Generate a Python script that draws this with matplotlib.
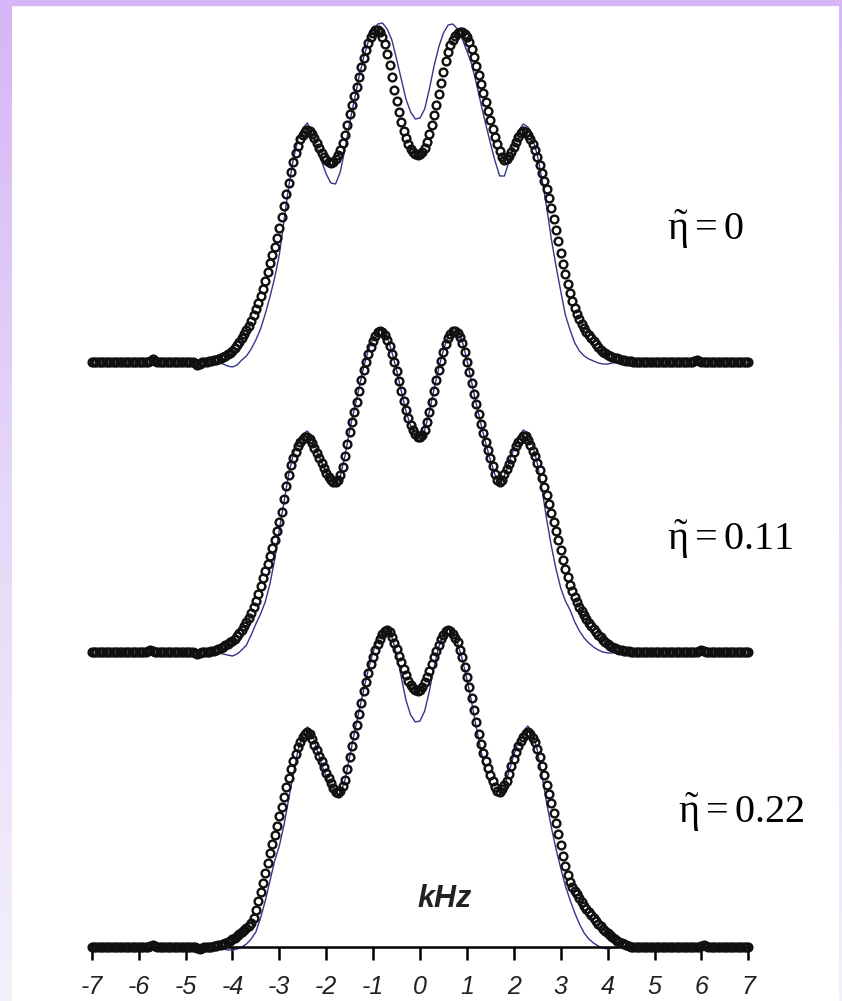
import numpy as np
import matplotlib.pyplot as plt
from matplotlib.colors import LinearSegmentedColormap
from matplotlib.patches import Rectangle

plt.rcParams['mathtext.fontset'] = 'custom'
plt.rcParams['mathtext.rm'] = 'Liberation Serif'
plt.rcParams['mathtext.it'] = 'Liberation Serif'
plt.rcParams['font.family'] = ['Liberation Sans', 'DejaVu Sans']

# ---- data (heights above each trace's baseline) --------------------------
# observed spectrum, 0.05 kHz grid from -7 to 7
khz_obs = np.round(np.arange(-7.0, 7.001, 0.05), 2)
# simulated spectrum, 0.1 kHz grid from -4.5 to 4.5
khz_sim = np.round(np.arange(-4.5, 4.501, 0.1), 1)

tail0_left = [0, 0, 0, 0, 0, 0, 0, 0, 0, 0, 0, 0, 0, 0, 0, 0, 0, 0, 0, 0,
              0, 0, 0, 0, 0, 1, 3, 1, 0, 0, 0, 0, 0, 0, 0, 0, 0, 0, 0, 0,
              0, 0, 0, 0, -1, -3, -2, 0, 0, 0]
tail0_right = [0, 0, 0, 0, 0, 0, 0, 0, 0, 0, 0, 0, 0, 0, 0, 0, 0, 0, 0, 0,
               0, 0, 0, 0, 0, 0, 1, 2, 1, 0, 0, 0, 0, 0, 0, 0, 0, 0, 0, 0,
               0, 0, 0, 0, 0, 0, 0, 0, 0, 0]
core0 = [1, 1, 2, 2, 3, 4, 5, 6, 8, 9, 11, 14, 17, 20, 24, 28, 32, 36, 41, 47,
         53, 59, 66, 73, 81, 90, 99, 107, 115, 124, 134, 145, 156, 168, 179, 190, 200, 209, 216, 223,
         227, 230, 232, 231, 228, 224, 219, 214, 209, 205, 202, 200, 199, 200, 203, 207, 212, 219, 227, 237,
         248, 257, 266, 275, 285, 295, 304, 312, 319, 325, 329, 332, 332, 330, 325, 318, 308, 297, 285, 272,
         261, 250, 240, 231, 224, 218, 213, 210, 208, 207, 208, 210, 214, 220, 228, 237, 247, 257, 268, 279,
         290, 301, 310, 317, 322, 326, 329, 330, 330, 328, 325, 320, 313, 305, 296, 287, 278, 269, 260, 251,
         242, 233, 225, 218, 211, 205, 202, 203, 206, 210, 215, 220, 225, 229, 231, 230, 227, 223, 218, 212,
         205, 197, 189, 181, 173, 164, 154, 143, 132, 121, 109, 98, 88, 78, 69, 61, 54, 48, 43, 38,
         34, 30, 27, 24, 21, 18, 15, 12, 10, 9, 7, 6, 5, 4, 4, 3, 2, 2, 1, 1,
         1]
sim0 = [0, 0, -1, -2, -4, -5, -3, 2, 6, 13, 22, 33, 48, 65, 84, 107, 141, 175, 203, 223,
        234, 239, 228, 215, 201, 188, 179, 178, 190, 213, 239, 262, 285, 305, 321, 332, 338, 339, 333, 322,
        303, 283, 263, 250, 243, 244, 253, 273, 296, 315, 329, 337, 338, 333, 323, 311, 298, 279, 258, 238,
        219, 201, 186, 186, 201, 218, 231, 238, 235, 224, 207, 183, 155, 123, 96, 71, 47, 32, 19, 11,
        6, 3, 1, -1, -2, -2, -1, 0, 0, 0, 0]

tail1_left = [0, 0, 0, 0, 0, 0, 0, 0, 0, 0, 0, 0, 0, 0, 0, 0, 0, 0, 0, 0,
              0, 0, 0, 0, 1, 2, 1, 0, 0, 0, 0, 0, 0, 0, 0, 0, 0, 0, 0, 0,
              0, 0, 0, 0, -1, -2, -1, 0, 0, 0]
tail1_right = [0, 0, 0, 0, 0, 0, 0, 0, 0, 0, 0, 0, 0, 0, 0, 0, 0, 0, 0, 0,
               0, 0, 0, 0, 0, 0, 0, 0, 1, 2, 1, 0, 0, 0, 0, 0, 0, 0, 0, 0,
               0, 0, 0, 0, 0, 0, 0, 0, 0, 0]
core1 = [0, 1, 1, 2, 3, 4, 5, 7, 8, 10, 11, 13, 16, 19, 22, 26, 30, 34, 39, 45,
         51, 58, 66, 74, 81, 88, 96, 104, 112, 121, 130, 140, 153, 166, 177, 187, 194, 200, 206, 210,
         213, 215, 215, 213, 209, 204, 199, 194, 189, 184, 179, 175, 172, 170, 170, 172, 177, 185, 196, 208,
         220, 230, 240, 250, 261, 272, 282, 290, 298, 305, 311, 316, 320, 321, 320, 317, 312, 306, 298, 290,
         281, 271, 261, 251, 242, 234, 227, 222, 218, 215, 215, 217, 222, 230, 240, 250, 261, 272, 282, 291,
         300, 308, 314, 318, 321, 321, 319, 315, 309, 300, 290, 280, 269, 258, 248, 238, 228, 219, 210, 202,
         194, 186, 178, 172, 170, 172, 178, 183, 188, 193, 200, 206, 210, 213, 216, 216, 212, 207, 201, 196,
         189, 182, 174, 165, 157, 148, 139, 130, 121, 112, 102, 92, 83, 75, 67, 61, 55, 50, 45, 41,
         37, 33, 29, 26, 23, 20, 17, 15, 12, 10, 8, 6, 5, 4, 3, 2, 2, 1, 1, 1,
         0]
sim1 = [0, 0, -1, -2, -3, -4, -2, 2, 7, 17, 28, 38, 50, 68, 92, 122, 150, 178, 198, 210,
        218, 221, 214, 202, 190, 180, 172, 169, 176, 196, 222, 243, 264, 285, 302, 314, 323, 324, 316, 300,
        282, 261, 241, 226, 217, 215, 222, 240, 263, 284, 302, 316, 324, 322, 311, 292, 270, 248, 228, 209,
        192, 177, 169, 176, 190, 203, 214, 222, 219, 207, 189, 163, 133, 106, 83, 64, 51, 42, 30, 21,
        14, 9, 5, 2, 0, -1, -1, 0, 0, 0, 0]

tail2_left = [0, 0, 0, 0, 0, 0, 0, 0, 0, 0, 0, 0, 0, 0, 0, 0, 0, 0, 0, 0,
              0, 0, 0, 0, 0, 1, 2, 1, 0, 0, 0, 0, 0, 0, 0, 0, 0, 0, 0, 0,
              0, 0, 0, 0, 0, -1, -2, -1, 0, 0]
tail2_right = [0, 0, 0, 0, 0, 0, 0, 0, 0, 0, 0, 0, 0, 0, 0, 0, 0, 0, 0, 0,
               0, 0, 0, 0, 0, 0, 0, 0, 0, 1, 2, 1, 0, 0, 0, 0, 0, 0, 0, 0,
               0, 0, 0, 0, 0, 0, 0, 0, 0, 0]
core2 = [0, 0, 1, 1, 2, 2, 3, 4, 5, 6, 8, 9, 11, 13, 15, 17, 19, 21, 24, 29,
         37, 46, 55, 64, 74, 84, 94, 103, 112, 121, 131, 140, 150, 160, 169, 178, 186, 193, 200, 205,
         210, 213, 215, 213, 208, 202, 197, 191, 186, 180, 174, 169, 164, 159, 155, 154, 156, 161, 167, 178,
         190, 201, 212, 222, 233, 244, 256, 265, 274, 283, 290, 297, 303, 308, 313, 316, 317, 315, 310, 304,
         298, 291, 285, 278, 272, 266, 262, 259, 257, 256, 257, 260, 265, 270, 276, 283, 290, 296, 302, 308,
         312, 316, 317, 316, 313, 309, 305, 297, 290, 280, 270, 260, 249, 237, 225, 213, 203, 194, 186, 179,
         172, 166, 160, 156, 155, 158, 162, 166, 173, 181, 188, 195, 201, 206, 210, 213, 215, 213, 209, 205,
         198, 190, 181, 172, 162, 153, 144, 134, 124, 113, 102, 91, 81, 72, 65, 60, 56, 53, 49, 45,
         41, 38, 35, 32, 29, 26, 23, 21, 18, 16, 14, 12, 10, 8, 6, 5, 4, 3, 2, 1,
         0]
sim2 = [0, 0, -1, -2, -3, -3, -2, 0, 3, 8, 15, 29, 46, 66, 86, 101, 122, 148, 173, 197,
        212, 220, 214, 198, 183, 170, 159, 151, 153, 167, 190, 214, 236, 257, 278, 295, 308, 316, 318, 310,
        293, 270, 247, 232, 225, 226, 236, 256, 280, 300, 313, 318, 314, 304, 288, 268, 245, 220, 196, 176,
        162, 152, 151, 160, 176, 192, 206, 216, 221, 214, 197, 172, 144, 120, 98, 79, 61, 47, 34, 23,
        14, 8, 4, 1, -1, -2, -1, 0, 0, 0, 0]

obs = [tail0_left + core0 + tail0_right,
       tail1_left + core1 + tail1_right,
       tail2_left + core2 + tail2_right]
sims = [sim0, sim1, sim2]
labels = [r'$\tilde{\eta}=0$', r'$\tilde{\eta}=0.11$', r'$\tilde{\eta}=0.22$']
offsets = [585, 295, 0]
label_pos = [(5.27, 707), (5.27, 397), (5.50, 124)]
ticks = list(range(-7, 8))

# ---- figure ---------------------------------------------------------------
W, H = 842, 1001
fig = plt.figure(figsize=(W / 100, H / 100), dpi=100, facecolor='white')

# lavender frame on the left / top / right edge
frame = LinearSegmentedColormap.from_list('frame', ['#d6b6f6', '#e6d8f8', '#f3f0fb'])
grad = np.linspace(0, 1, 256)[:, None]
for rect in ([0, 0, 12 / W, 1], [(W - 3) / W, 0, 3 / W, 1]):
    bax = fig.add_axes(rect)
    bax.imshow(grad, aspect='auto', cmap=frame)
    bax.set_axis_off()
fig.patches.append(Rectangle((0, 1 - 5 / H), 1, 5 / H, transform=fig.transFigure,
                             color='#d6b6f6', zorder=5))

px_per_khz = 46.9
x0 = 420
ax = fig.add_axes([0, 54 / H, 1, 947 / H])
ax.patch.set_alpha(0)
ax.set_xlim(-x0 / px_per_khz, (W - x0) / px_per_khz)
ax.set_ylim(0, 947)

for y, ys, off in zip(obs, sims, offsets):
    ax.plot(khz_sim, np.array(ys) + off, color='#35358c', lw=1.0, zorder=2, clip_on=False)
    ax.plot(khz_obs, np.array(y) + off, ls='none', marker='o', ms=5.6, mfc='none',
            mec='#101010', mew=1.7, zorder=3, clip_on=False)

for txt, (lx, ly) in zip(labels, label_pos):
    ax.text(lx, ly, txt, fontsize=29, ha='left', va='baseline', color='black')

ax.text((445 - x0) / px_per_khz, 947 - 899, 'kHz', ha='center', va='center',
        fontsize=22, fontweight='bold', fontstyle='italic', color='#222222')

for s in ['top', 'left', 'right']:
    ax.spines[s].set_visible(False)
ax.spines['bottom'].set_bounds(-7, 7)
ax.spines['bottom'].set_linewidth(1.8)
ax.set_yticks([])
ax.set_xticks(ticks)
ax.set_xticklabels([str(t) for t in ticks])
ax.tick_params(axis='x', direction='out', length=9, width=1.8, pad=11,
               labelsize=18, labelcolor='#222222')
for lbl in ax.get_xticklabels():
    lbl.set_fontstyle('italic')

fig.savefig('out.png', dpi=100, facecolor='white')
